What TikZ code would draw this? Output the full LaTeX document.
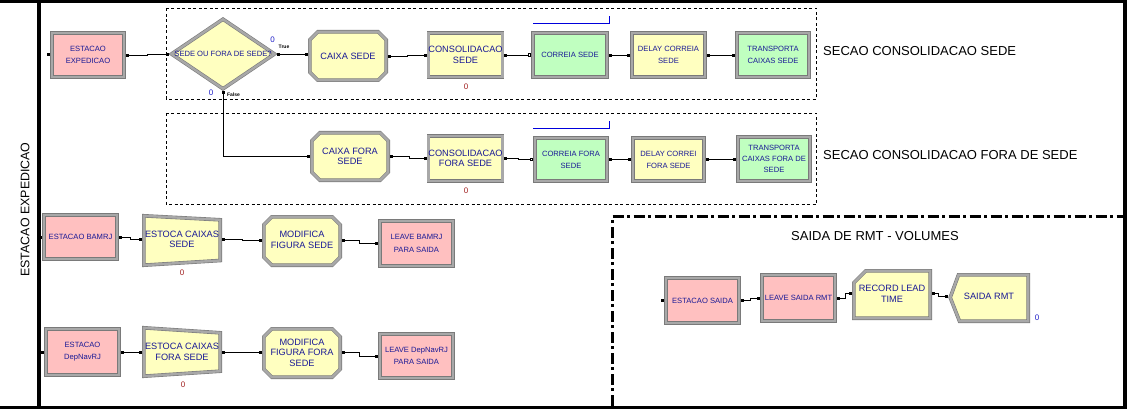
\documentclass[tikz,border=0pt]{standalone}
\usepackage{fontspec}
\setmainfont{Liberation Sans}
\usetikzlibrary{arrows.meta,calc}
\definecolor{txt}{RGB}{25,25,150}
\definecolor{pnk}{RGB}{255,192,192}
\definecolor{yel}{RGB}{255,255,192}
\definecolor{grn}{RGB}{192,255,192}
\definecolor{cntred}{RGB}{160,30,30}
\definecolor{cntblue}{RGB}{30,30,200}
\definecolor{convblue}{RGB}{0,0,220}
\tikzset{
 modb/.style={draw=black!52, line width=0.6pt, double=black!34, double distance=2.4pt},
 mrect/.style={modb, rectangle, inner sep=0pt, outer sep=1.8pt, align=center, text=txt},
 mtxt/.style={rectangle, inner sep=0pt, outer sep=0pt, align=center, text=txt},
 big/.style={font=\fontsize{9.2}{10.6}\selectfont},
 small/.style={font=\fontsize{7.6}{12.2}\selectfont},
 conn/.style={line width=0.8pt, {Square[length=2.8pt,width=2.8pt]}-{Square[length=2.8pt,width=2.8pt]}},
 connopen/.style={line width=0.8pt, {Square[length=2.8pt,width=2.8pt]}-{Square[open,length=3pt,width=3pt,fill=white]}},
 secbox/.style={draw, line width=0.8pt, dash pattern=on 3pt off 2.5pt},
 dashdot/.style={line width=3pt, dash pattern=on 11pt off 3.5pt on 3pt off 3.5pt},
 title/.style={font=\fontsize{13}{15}\selectfont, inner sep=0pt},
 cnt/.style={font=\fontsize{8}{9}\selectfont, inner sep=0pt},
 tf/.style={font=\fontsize{5}{6}\selectfont\bfseries, inner sep=0pt},
}
\newcommand{\octshape}[5]{\path[modb,fill=#5] ({#1+9.8},{#2+1.8}) -- ({#3-9.8},{#2+1.8}) -- ({#3-1.8},{#2+9.8}) -- ({#3-1.8},{#4-9.8}) -- ({#3-9.8},{#4-1.8}) -- ({#1+9.8},{#4-1.8}) -- ({#1+1.8},{#4-9.8}) -- ({#1+1.8},{#2+9.8}) -- cycle;}
\begin{document}
\begin{tikzpicture}[x=1pt,y=-1pt]
\useasboundingbox (0,0) rectangle (1127,409);
\fill[white] (0,0) rectangle (1127,409);
% frame
\fill[black] (0,0) rectangle (1127,3);
\fill[black] (1123.3,0) rectangle (1127,409);
\fill[black] (0,405.7) rectangle (1127,409);
\fill[black] (36.7,0) rectangle (40.7,405.7);
\node[rotate=90, font=\fontsize{12.4}{14}\selectfont, inner sep=0pt] (lbl) at (25,209.5) {ESTACAO EXPEDICAO};

% section boxes
\draw[secbox] (166,8.5) rectangle (816.5,99);
\draw[secbox] (166,113.5) rectangle (816.5,204);
\draw[dashdot] (612.7,405.7) -- (612.7,216.7) -- (1123.3,216.7);

\node[title, anchor=west] (t1) at (823,51) {SECAO CONSOLIDACAO SEDE};
\node[title, anchor=west] (t2) at (823,155.5) {SECAO CONSOLIDACAO FORA DE SEDE};
\node[title] (t3) at (875,236) {SAIDA DE RMT - VOLUMES};

% custom shapes
\path[modb,fill=yel] (171.5,54) -- (223,19.2) -- (274.5,54) -- (223,88.8) -- cycle;
\octshape{308}{30}{388}{82}{yel}
\octshape{310}{131}{390}{182}{yel}
\octshape{262}{215}{342}{267}{yel}
\octshape{262}{327}{342}{379}{yel}
\path[modb,fill=yel] (143.8,215.8) -- (220.2,219.8) -- (220.2,260.5) -- (143.8,265.2) -- cycle;
\path[modb,fill=yel] (143.8,327.8) -- (220.2,332.8) -- (220.2,371.2) -- (143.8,376.2) -- cycle;
\path[modb,fill=yel] (865.8,270.8) -- (930.2,270.8) -- (930.2,318.2) -- (853.8,318.2) -- (853.8,282.8) -- cycle;
\path[modb,fill=yel] (958.5,274.8) -- (1028.2,274.8) -- (1028.2,321.2) -- (959.5,321.2) -- (950.2,297.5) -- cycle;

% row 1
\node[mrect, small, fill=pnk, minimum width=72.4, minimum height=44.4] (estexp) at (88,55) {ESTACAO\\EXPEDICAO};
\node[mtxt, small, minimum width=108, minimum height=74] (dec) at (223,54) {SEDE OU FORA DE SEDE?};
\node[mtxt, big, minimum width=80, minimum height=52] (caixasede) at (348,56) {CAIXA SEDE};
\node[mrect, big, fill=yel, minimum width=73.4, minimum height=44.4] (consede) at (465.5,55) {CONSOLIDACAO\\SEDE};
\node[mrect, small, fill=grn, minimum width=74.4, minimum height=44.4] (corsede) at (570,55) {CORREIA SEDE};
\node[mrect, small, fill=yel, minimum width=73.4, minimum height=44.4] (delsede) at (668.5,55) {DELAY CORREIA\\SEDE};
\node[mrect, small, fill=grn, minimum width=72.4, minimum height=44.4] (trsede) at (773,55) {TRANSPORTA\\CAIXAS SEDE};

% row 2
\node[mtxt, big, minimum width=80, minimum height=51] (caixafora) at (350,156.5) {CAIXA FORA\\SEDE};
\node[mrect, big, fill=yel, minimum width=73.4, minimum height=45.4] (confora) at (465.5,158.5) {CONSOLIDACAO\\FORA SEDE};
\node[mrect, small, fill=grn, minimum width=72.4, minimum height=43.4] (corfora) at (571,159.5) {CORREIA FORA\\SEDE};
\node[mrect, small, fill=yel, minimum width=71.4, minimum height=43.4] (delfora) at (668.5,159.5) {DELAY CORREI\\FORA SEDE};
\node[mrect, small, fill=grn, minimum width=72.4, minimum height=44.4, font=\fontsize{7.6}{11.3}\selectfont] (trfora) at (774,159) {TRANSPORTA\\CAIXAS FORA DE\\SEDE};

% row 3
\node[mrect, small, fill=pnk, minimum width=73.4, minimum height=44.4] (estbam) at (80.5,237) {ESTACAO BAMRJ};
\node[mtxt, big, minimum width=80, minimum height=48] (estocasede) at (182,239.5) {ESTOCA CAIXAS\\SEDE};
\node[mtxt, big, minimum width=80, minimum height=52] (modsede) at (302,240) {MODIFICA\\FIGURA SEDE};
\node[mrect, small, fill=pnk, minimum width=73.4, minimum height=45.4] (leavebam) at (416.5,243.5) {LEAVE BAMRJ\\PARA SAIDA};

% row 4
\node[mrect, small, fill=pnk, minimum width=73.4, minimum height=46.4] (estdep) at (82.5,352) {ESTACAO\\DepNavRJ};
\node[mtxt, big, minimum width=80, minimum height=48] (estocafora) at (182,352) {ESTOCA CAIXAS\\FORA SEDE};
\node[mtxt, big, minimum width=80, minimum height=52] (modfora) at (302,352.5) {MODIFICA\\FIGURA FORA\\SEDE};
\node[mrect, small, fill=pnk, minimum width=73.4, minimum height=44.4] (leavedep) at (416.5,356) {LEAVE DepNavRJ\\PARA SAIDA};

% row 5
\node[mrect, small, fill=pnk, minimum width=73.4, minimum height=45.4] (estsaida) at (702.5,300.5) {ESTACAO SAIDA};
\node[mrect, small, fill=pnk, minimum width=73.4, minimum height=46.4] (leavesaida) at (798.5,298) {LEAVE SAIDA RMT};
\node[mtxt, big, minimum width=80, minimum height=51] (record) at (892,293.5) {RECORD LEAD\\TIME};
\node[mtxt, big, minimum width=82, minimum height=50] (saidarmt) at (989,296.5) {SAIDA RMT};

% conveyor marks
\draw[convblue, line width=0.9pt] (533,23) -- (609,23) -- (609,16);
\draw[convblue, line width=0.9pt] (533,128) -- (609,128) -- (609,121);

% counters and labels
\node[cnt, text=cntblue] (c1) at (272.5,40) {0};
\node[cnt, text=cntblue] (c2) at (211,93) {0};
\node[tf] (ltrue) at (284,47) {True};
\node[tf] (lfalse) at (233.5,94.5) {False};
\node[cnt, text=cntred] (c3) at (466,86.5) {0};
\node[cnt, text=cntred] (c4) at (466,191) {0};
\node[cnt, text=cntred] (c5) at (182,273) {0};
\node[cnt, text=cntred] (c6) at (183,385) {0};
\node[cnt, text=cntblue] (c7) at (1037,318) {0};

% entry squares
\fill (estexp.west) ++(-3,-1.5) rectangle ++(3,3);
\fill (estbam.west) ++(-3,-1.5) rectangle ++(3,3);
\fill (estdep.west) ++(-3,-1.5) rectangle ++(3,3);
\fill (estsaida.west) ++(-3,-1.5) rectangle ++(3,3);

% connectors row 1
\draw[conn] (estexp.east) -- ++(21,0) |- (dec.west);
\draw[conn] (dec.east) -- (dec.east -| caixasede.west);
\draw[conn] (caixasede.east) -- ++(19,0) |- (consede.west);
\draw[connopen] (consede.east) -- (corsede.west);
\draw[conn] (corsede.east) -- (delsede.west);
\draw[conn] (delsede.east) -- (trsede.west);
\draw[conn] (dec.south) |- (caixafora.west);
% row 2
\draw[conn] (caixafora.east) -- ++(19,0) |- (confora.west);
\draw[connopen] (confora.east) -- ++(14,0) |- (corfora.west);
\draw[conn] (corfora.east) -- (delfora.west);
\draw[conn] (delfora.east) -- ++(13,0) |- (trfora.west);
% row 3
\draw[conn] (estbam.east) -- ++(11,0) |- (estocasede.west);
\draw[conn] (estocasede.east) -- ++(20,0) |- (modsede.west);
\draw[conn] (modsede.east) -- ++(17,0) |- (leavebam.west);
% row 4
\draw[conn] (estdep.east) -- (estocafora.west);
\draw[conn] (estocafora.east) -- ++(20,0) |- (modfora.west);
\draw[conn] (modfora.east) -- ++(17,0) |- (leavedep.west);
% row 5
\draw[conn] (estsaida.east) -- ++(9,0) |- (leavesaida.west);
\draw[conn] (leavesaida.east) -- ++(8,0) |- (record.west);
\draw[conn] (record.east) -- ++(6,0) |- (saidarmt.west);
\end{tikzpicture}
\end{document}
